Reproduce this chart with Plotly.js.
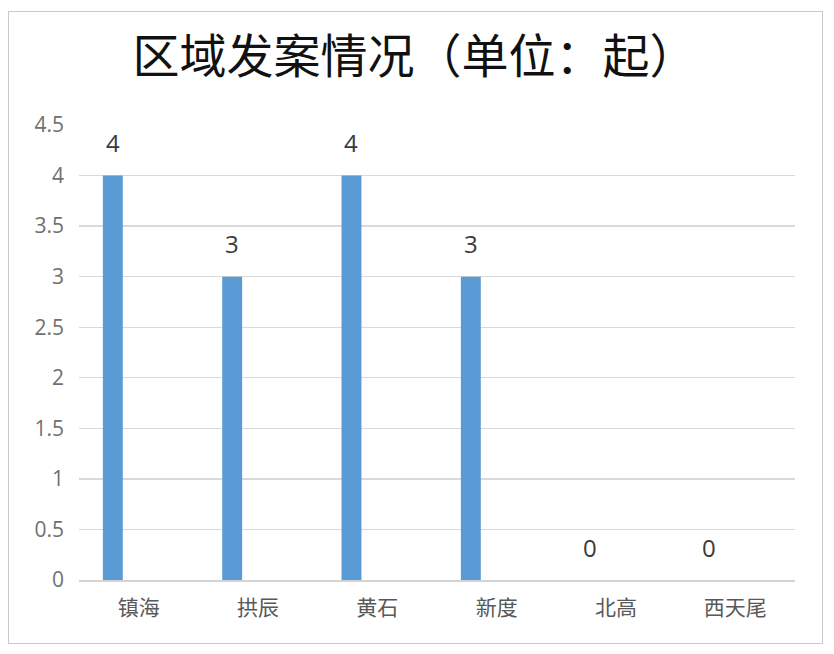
<!DOCTYPE html>
<html>
<head>
<meta charset="utf-8">
<script src="https://cdn.plot.ly/plotly-3.0.1.min.js"></script>
<style>
  html, body { margin: 0; padding: 0; background: #ffffff; }
  #wrap { position: relative; width: 834px; height: 654px; }
  #chart { width: 834px; height: 654px; }
  #frame { position: absolute; left: 8px; top: 11px; width: 815px; height: 633px;
           border: 1.5px solid #c9c9c9; box-sizing: border-box; pointer-events: none; }
</style>
</head>
<body>
<div id="wrap">
  <div id="chart"></div>
  <div id="frame"></div>
</div>
<script>
const categories = ["镇海", "拱辰", "黄石", "新度", "北高", "西天尾"];
const cases = [4, 3, 4, 3, 0, 0];
const yTickVals = [0, 0.5, 1, 1.5, 2, 2.5, 3, 3.5, 4, 4.5];
const yTickText = ["0", "0.5", "1", "1.5", "2", "2.5", "3", "3.5", "4", "4.5"];

const trace = {
  type: "bar",
  x: categories,
  y: cases,
  width: 0.167,
  offset: -0.3,
  marker: { color: "#5b9bd5" },
  hoverinfo: "x+y"
};

const labels = categories.map((c, i) => ({
  x: c, y: cases[i], xref: "x", yref: "y",
  text: String(cases[i]), showarrow: false,
  xshift: -26, yshift: 33, yanchor: "middle",
  font: { family: "Open Sans, Noto Sans CJK SC, sans-serif", size: 24, color: "#3a3a3a" }
}));

const layout = {
  width: 834, height: 654,
  margin: { l: 79, r: 39, t: 125, b: 74 },
  paper_bgcolor: "#ffffff",
  plot_bgcolor: "#ffffff",
  showlegend: false,
  title: {
    text: "区域发案情况（单位：起）",
    x: 0.497, xanchor: "center",
    y: 0.913, yanchor: "middle",
    font: { family: "Noto Sans CJK SC, sans-serif", size: 47, color: "#111111" }
  },
  xaxis: {
    type: "category",
    range: [-0.5, 5.5],
    showgrid: false,
    showline: true, linecolor: "#d4d4d4", linewidth: 1.5,
    ticks: "",
    ticklabelstandoff: 8,
    tickfont: { family: "Noto Sans CJK SC, sans-serif", size: 21, color: "#595959" }
  },
  yaxis: {
    range: [0, 4.5],
    tickmode: "array", tickvals: yTickVals, ticktext: yTickText,
    showgrid: true, gridcolor: "#d9d9d9", gridwidth: 1.3,
    zeroline: false, showline: false,
    ticks: "",
    ticklabelstandoff: 14,
    tickfont: { family: "Open Sans, sans-serif", size: 21, color: "#707070" }
  },
  annotations: labels
};

Plotly.newPlot("chart", [trace], layout, { displayModeBar: false, staticPlot: true });
</script>
</body>
</html>
